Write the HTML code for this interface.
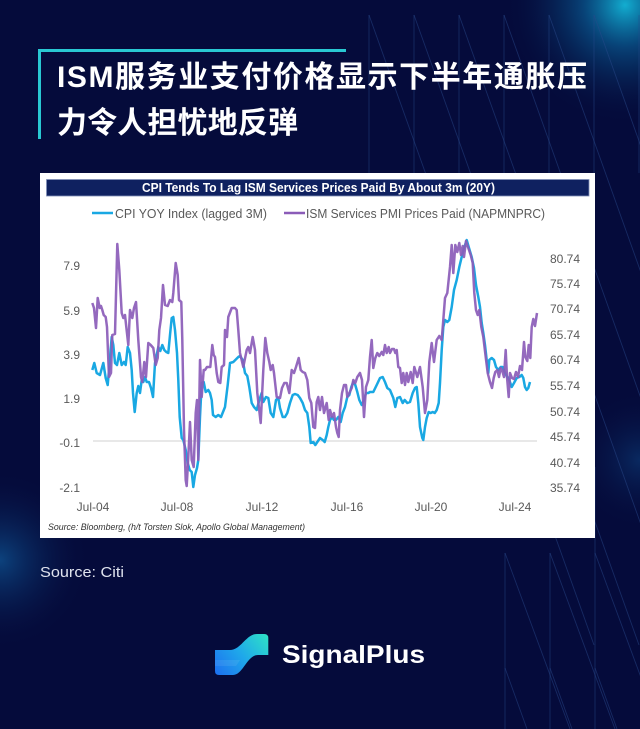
<!DOCTYPE html>
<html>
<head>
<meta charset="utf-8">
<style>
html,body{margin:0;padding:0;background:#050b3b;}
body{width:640px;height:729px;overflow:hidden;position:relative;}
svg{display:block;}
</style>
</head>
<body>
<svg width="640" height="729" viewBox="0 0 640 729" xmlns="http://www.w3.org/2000/svg">
<defs>
<radialGradient id="gTR" cx="625" cy="5" r="120" gradientUnits="userSpaceOnUse">
<stop offset="0" stop-color="#13b6d8" stop-opacity="0.95"/>
<stop offset="0.35" stop-color="#0a6fa8" stop-opacity="0.55"/>
<stop offset="1" stop-color="#050b3b" stop-opacity="0"/>
</radialGradient>
<radialGradient id="gL" cx="0" cy="560" r="90" gradientUnits="userSpaceOnUse">
<stop offset="0" stop-color="#0f5a9a" stop-opacity="0.7"/>
<stop offset="1" stop-color="#050b3b" stop-opacity="0"/>
</radialGradient>
<radialGradient id="gR" cx="640" cy="460" r="70" gradientUnits="userSpaceOnUse">
<stop offset="0" stop-color="#0f4f8f" stop-opacity="0.45"/>
<stop offset="1" stop-color="#050b3b" stop-opacity="0"/>
</radialGradient>
<linearGradient id="logoG" x1="215" y1="675" x2="268" y2="634" gradientUnits="userSpaceOnUse">
<stop offset="0" stop-color="#1c6ff0"/>
<stop offset="0.5" stop-color="#1fa8ea"/>
<stop offset="1" stop-color="#2fe3c6"/>
</linearGradient>
</defs>

<rect x="0" y="0" width="640" height="729" fill="#050b3b"/>
<rect x="0" y="0" width="640" height="729" fill="url(#gTR)"/>
<rect x="0" y="0" width="640" height="729" fill="url(#gL)"/>
<rect x="0" y="0" width="640" height="729" fill="url(#gR)"/>

<!-- decorative lines -->
<g stroke="#2a4a8c" stroke-width="0.9" stroke-opacity="0.5" fill="none">
<line x1="369" y1="15" x2="369" y2="173"/>
<line x1="414" y1="15" x2="414" y2="173"/>
<line x1="459" y1="15" x2="459" y2="173"/>
<line x1="504" y1="15" x2="504" y2="173"/>
<line x1="549" y1="15" x2="549" y2="173"/>
<line x1="594" y1="15" x2="594" y2="173"/>
<line x1="639" y1="15" x2="639" y2="173"/>
<line x1="369" y1="15" x2="594" y2="645"/>
<line x1="414" y1="15" x2="639" y2="645"/>
<line x1="459" y1="15" x2="684" y2="645"/>
<line x1="504" y1="15" x2="729" y2="645"/>
<line x1="549" y1="15" x2="774" y2="645"/>
<line x1="594" y1="15" x2="819" y2="645"/>
<line x1="595" y1="467" x2="595" y2="729"/>
<line x1="505" y1="553" x2="505" y2="729"/>
<line x1="550" y1="553" x2="550" y2="729"/>
<line x1="505" y1="553" x2="570" y2="729"/>
<line x1="550" y1="553" x2="615" y2="729"/>
<line x1="595" y1="553" x2="660" y2="729"/>
<line x1="505" y1="668" x2="527" y2="729"/>
<line x1="550" y1="668" x2="572" y2="729"/>
<line x1="595" y1="668" x2="617" y2="729"/>
</g>

<!-- title bracket -->
<rect x="38" y="49" width="308" height="3" fill="#29c8d2"/>
<rect x="38" y="49" width="3" height="90" fill="#29c8d2"/>

<!-- title -->
<g font-family="'Liberation Sans','Noto Sans CJK SC',sans-serif" font-weight="bold" font-size="30" fill="#ffffff">
<text x="57" y="87" textLength="530">ISM服务业支付价格显示下半年通胀压</text>
<text x="57" y="133" textLength="241">力令人担忧地反弹</text>
</g>

<!-- chart panel -->
<rect x="40" y="173" width="555" height="365" fill="#ffffff"/>
<rect x="46.5" y="179.5" width="542.5" height="16.5" fill="#0f2160" stroke="#8090b8" stroke-width="0.8"/>
<text x="142" y="192" font-family="'Liberation Sans',sans-serif" font-weight="bold" font-size="12.5" fill="#ffffff" textLength="353" lengthAdjust="spacingAndGlyphs">CPI Tends To Lag ISM Services Prices Paid By About 3m (20Y)</text>

<!-- legend -->
<line x1="92" y1="213" x2="113" y2="213" stroke="#19a8e3" stroke-width="2.6"/>
<text x="115" y="218" font-family="'Liberation Sans',sans-serif" font-size="13" fill="#595959" textLength="152" lengthAdjust="spacingAndGlyphs">CPI YOY Index (lagged 3M)</text>
<line x1="284" y1="213" x2="305" y2="213" stroke="#8b5cb8" stroke-width="2.6"/>
<text x="306" y="218" font-family="'Liberation Sans',sans-serif" font-size="13" fill="#595959" textLength="239" lengthAdjust="spacingAndGlyphs">ISM Services PMI Prices Paid (NAPMNPRC)</text>

<!-- gridline -->
<line x1="93" y1="441" x2="537" y2="441" stroke="#d0d0d0" stroke-width="1"/>

<!-- axis labels -->
<g font-family="'Liberation Sans',sans-serif" font-size="12" fill="#595959">
<g text-anchor="end">
<text x="80" y="270">7.9</text>
<text x="80" y="315">5.9</text>
<text x="80" y="359">3.9</text>
<text x="80" y="403">1.9</text>
<text x="80" y="447">-0.1</text>
<text x="80" y="492">-2.1</text>
</g>
<text x="550" y="263">80.74</text>
<text x="550" y="288">75.74</text>
<text x="550" y="313">70.74</text>
<text x="550" y="339">65.74</text>
<text x="550" y="364">60.74</text>
<text x="550" y="390">55.74</text>
<text x="550" y="416">50.74</text>
<text x="550" y="441">45.74</text>
<text x="550" y="467">40.74</text>
<text x="550" y="492">35.74</text>
<g text-anchor="middle">
<text x="93" y="511">Jul-04</text>
<text x="177" y="511">Jul-08</text>
<text x="262" y="511">Jul-12</text>
<text x="347" y="511">Jul-16</text>
<text x="431" y="511">Jul-20</text>
<text x="515" y="511">Jul-24</text>
</g>
</g>

<!-- CPI series -->
<polyline fill="none" stroke="#19a8e3" stroke-width="2.5" stroke-linejoin="round" points="92.3,370 94.3,363 96.7,373 100,375 103.3,363 105.7,378 107.7,385 109.7,362 111.7,337 113.3,345 115,363 117,365 119.3,353 121.7,365 124,362 125.7,365 127.7,347 130,353 131.7,370 133,393 134.7,412 136.7,393 138.3,386 140,393 141.7,380 143.3,382 145,377 146.7,382 149,382 151,388 153,397 155,363 156.7,355 158.3,347 160.3,351 162.3,345 164.3,350 166.3,352 168.3,353 170,335 171.7,318 173.3,317 175,330 177,353 178.3,380 179.7,417 181.7,438 183.3,440 185.7,450 187.7,463 189.7,470 191.7,472 193.3,487 195,475 197,468 198.3,460 200,417 201.7,383 203.7,382 205.7,392 208.3,390 210,393 211.7,400 213,415 215.7,417 218.3,415 221,417 223,412 225,407 227.7,385 230,363 233.3,362 238.3,357 240,356 242.7,360 245,373 247.3,376 249.3,387 251.7,403 254,407 256.7,410 259.3,400 261.7,393 263.3,402 266,397 268.3,398 270.7,413 273.3,417 276,400 278.3,398 280,408 282.7,417 285,417 287.3,413 290,403 292.7,395 295,394 297.7,395 300,398 302.7,403 305,410 307.3,413 309.3,427 310.7,443 313.3,442 315.3,445 317.3,442 320,438 322.7,440 324.7,442 326.7,435 328.3,427 330,420 332,417 334,420 336,420 338.3,417 340.7,422 342.7,413 345,407 347.3,397 349.3,395 351.3,387 353.3,382 355.3,385 357.3,392 359.3,400 361.7,405 364,400 366,393 368.3,393 370,392 373.3,392 376.7,385 380,378 382.7,377 385,382 387.3,388 390,390 393.3,398 395.3,407 397.3,398 400,397 402.7,403 404.7,400 407.3,403 410,402 412.7,393 415,388 416.7,387 418.3,403 420,427 422.3,438 423.3,440 425,427 426.7,418 428.7,412 430.7,413 432.7,412 434.7,413 436.7,410 438.7,403 440,383 441.7,350 443.3,327 445,320 447.3,322 449.3,320 451.7,307 454,290 456.7,280 459.3,267 461.7,257 464,248 466.7,240 469,248 471.7,257 474,268 476,285 478.3,297 480,307 481.7,323 483.3,333 485,345 486.7,360 488.3,373 489.3,360 491.7,358 494,360 496,367 498.3,370 500.7,367 502.7,367 505,373 507.3,377 509.3,380 511.7,387 514,383 516.7,378 519.3,377 521.7,375 523.3,378 525,387 526.7,390 528.3,388 530,382"/>

<!-- ISM series -->
<polyline fill="none" stroke="#8b5cb8" stroke-width="2.5" stroke-linejoin="round" stroke-opacity="0.92" points="92.3,303 94,308 96,328 97.7,298 99.7,308 101,306 102.3,310 103.7,315 105.7,317 107,327 109,377 111,373 112.3,335 115,334 117.3,244 119.3,270 121.7,313 123.3,318 125,315 126.3,327 128.3,345 130,310 132.3,318 134,308 136,302 138.3,340 141,377 142.3,382 144.3,362 146,377 148.3,343 150.7,345 153.3,348 155.7,365 157.7,358 159.3,330 161,318 163,285 165,305 167.7,306 170,300 172.3,302 173.3,293 175.7,263 177.7,275 179,300 181.3,302 182.3,340 184,430 185.7,480 186.7,486 188.3,457 190,422 191.7,460 193.7,467 195.7,413 197,400 198.3,460 200,360 201.7,397 203.7,370 205,370 207,367 210.3,367 212.3,345 213.7,355 215,357 216.7,373 218.3,382 220.3,383 221.7,367 224,365 225,330 227,337 228.3,317 231.7,308 235,308 236.7,310 238.3,330 240,353 243.3,367 246.7,350 248.3,347 250,353 252.7,337 255,350 257.3,393 260.7,423 263.3,370 265.3,338 267.3,353 269.3,362 270.7,370 272.7,365 274,373 276.7,397 280,398 282,388 284.3,383 286.7,383 289.3,393 291.7,370 294,373 296,367 298.7,358 300.7,370 302.7,372 305,373 307.3,380 309.3,398 311.3,403 313.3,427 315,428 316.7,402 318.3,397 320,410 322,397 324,413 326.7,403 328.7,420 330,410 332,417 334,413 336,427 337.3,433 338.7,437 340,410 342,393 344,385 346,385 347.3,397 349.3,393 351.7,388 353.3,380 355.3,383 357.3,377 360,373 362,380 364,417 366,387 368.3,380 370,357 371.7,340 373.3,368 375.3,358 377.3,353 379.3,356 381.7,352 383.3,355 385,345 386.7,353 388.7,347 390,353 392,349 394,349 395.3,353 396.7,350 398.3,367 400,368 401.7,383 403.3,373 405,385 406.7,373 408.3,382 410.7,372 412.7,383 414.3,367 417.3,377 420,367 422.7,387 425,413 427.3,400 429.3,362 431.7,343 434,362 436.7,340 439.3,336 441.7,340 443.3,320 445,298 447.3,293 450,267 451.7,245 453.3,273 455.3,245 457.3,252 459.3,243 461,255 462.7,246 464,257 466,241 468.3,248 470.7,255 472.7,263 474.3,293 476,310 477.7,315 479.3,310 481.3,327 483.3,337 485.7,357 487.7,373 490,382 492,388 493.7,378 495.3,372 497.3,370 499,377 500.7,368 502.3,371 504,377 505.7,350 507,377 508.7,397 510,373 512,378 514,379 516,372 518,377 520,366 522,370 524,342 525.3,357 527.3,361 528.7,345 530.3,358 531.7,327 533.3,319 535,326 537,313"/>

<!-- source note -->
<text x="48" y="530" font-family="'Liberation Sans',sans-serif" font-style="italic" font-size="9.5" fill="#333333" textLength="257" lengthAdjust="spacingAndGlyphs">Source: Bloomberg, (h/t Torsten Slok, Apollo Global Management)</text>

<!-- Source: Citi -->
<text x="40" y="577" font-family="'Liberation Sans',sans-serif" font-size="15" fill="#dfe3ee" textLength="84" lengthAdjust="spacingAndGlyphs">Source: Citi</text>

<!-- logo -->
<path d="M215,650 L230,650 C241,650 246,634 257,634 L264,634 Q268.3,634 268.3,638 L268.3,655 L258,655 C247,655 243,675 233,675 L219,675 Q215,675 215,671 Z" fill="url(#logoG)"/>
<path d="M215,660 L240,660 L236,666 L215,666 Z" fill="#ffffff" fill-opacity="0.08"/>
<text x="282" y="663" font-family="'Liberation Sans',sans-serif" font-weight="bold" font-size="25" fill="#ffffff" textLength="143" lengthAdjust="spacingAndGlyphs">SignalPlus</text>
</svg>
</body>
</html>
